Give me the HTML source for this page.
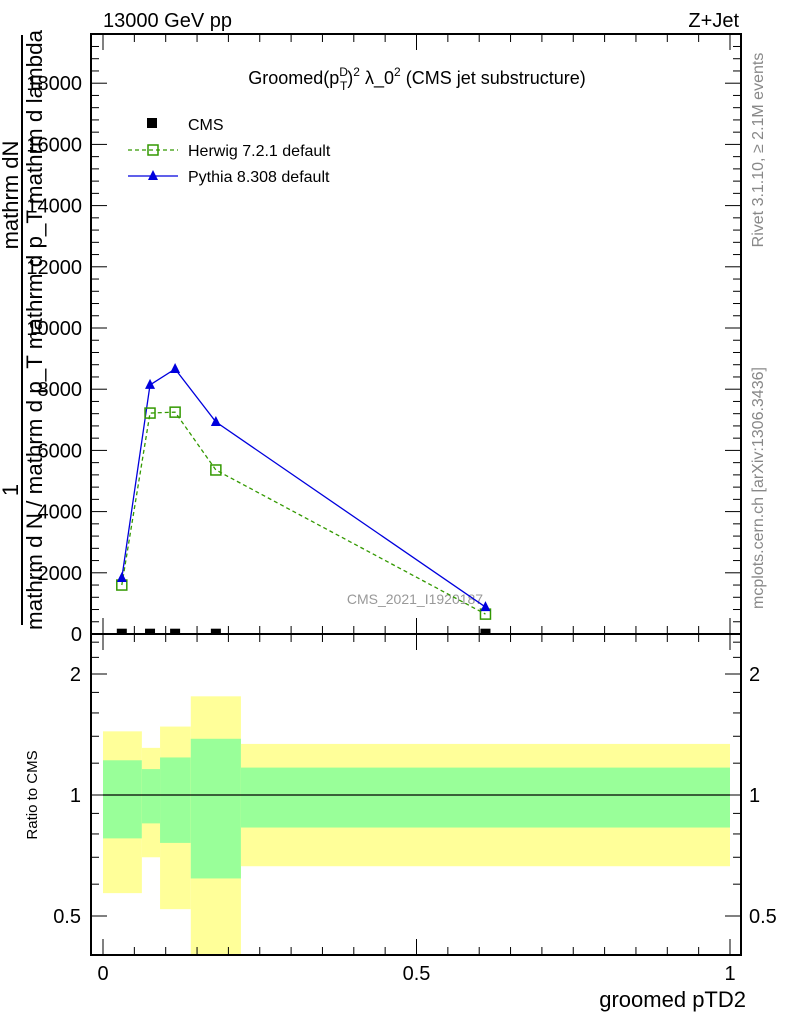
<!DOCTYPE html>
<html><head><meta charset="utf-8"><style>
body{margin:0;background:#fff;width:786px;height:1024px;overflow:hidden}
svg{font-family:"Liberation Sans",sans-serif}
</style></head><body>
<svg id="c" width="786" height="1024" xmlns="http://www.w3.org/2000/svg">
<text x="103" y="27" font-size="20">13000 GeV pp</text>
<text x="739" y="27" font-size="20" text-anchor="end">Z+Jet</text>
<text x="417" y="84" font-size="18" text-anchor="middle">Groomed(p<tspan font-size="12" dy="-8">D</tspan><tspan font-size="12" dx="-8" dy="14">T</tspan><tspan font-size="18" dy="-6">)</tspan><tspan font-size="12" dy="-8">2</tspan><tspan dy="8"> λ_0</tspan><tspan font-size="12" dy="-8">2</tspan><tspan dy="8"> (CMS jet substructure)</tspan></text>
<g transform="translate(763,150) rotate(-90)"><text font-size="16" fill="#888" text-anchor="middle">Rivet 3.1.10, ≥ 2.1M events</text></g>
<g transform="translate(763,488) rotate(-90)"><text font-size="16" fill="#888" text-anchor="middle">mcplots.cern.ch [arXiv:1306.3436]</text></g>
<g transform="translate(20,330) rotate(-90)">
<text x="-160" y="-2" font-size="22" text-anchor="middle">1</text>
<line x1="-295" y1="2" x2="295" y2="2" stroke="#000" stroke-width="2"/>
<text x="135" y="-2" font-size="22" text-anchor="middle">mathrm dN</text>
<text x="0" y="22" font-size="22" text-anchor="middle" textLength="600" lengthAdjust="spacingAndGlyphs">mathrm d N / mathrm d p_T mathrm d p_T mathrm d lambda</text>
</g>
<g transform="translate(37,795) rotate(-90)"><text font-size="15" text-anchor="middle">Ratio to CMS</text></g>
<text x="746" y="1007" font-size="22" text-anchor="end">groomed pTD2</text>
<text x="415" y="604" font-size="14" fill="#999" text-anchor="middle">CMS_2021_I1920187</text>
<g id="bands"></g>
<g id="axes"></g>
<g id="series"></g>
<g>
<rect x="147" y="118" width="10" height="10" fill="#000"/>
<text x="188" y="130" font-size="16">CMS</text>
<line x1="128" y1="150" x2="178" y2="150" stroke="#339900" stroke-dasharray="4,3" stroke-width="1.3"/>
<rect x="148" y="145" width="10" height="10" fill="none" stroke="#339900" stroke-width="1.5"/>
<text x="188" y="156" font-size="16">Herwig 7.2.1 default</text>
<line x1="128" y1="176" x2="178" y2="176" stroke="#0000dd" stroke-width="1.3"/>
<polygon points="153,170 158,180 148,180" fill="#0000dd"/>
<text x="188" y="182" font-size="16">Pythia 8.308 default</text>
</g>
</svg>
<script>
const xVals=[0.03,0.075,0.115,0.18,0.61];
const cmsVals=[10,10,10,10,10];
const herwigVals=[1600,7220,7250,5360,650];
const pythiaVals=[1830,8140,8660,6930,880];
const binEdges=[0,0.062,0.091,0.14,0.22,1];
const yellowUp=[1.44,1.31,1.48,1.76,1.34];
const yellowDn=[0.57,0.70,0.52,0.30,0.665];
const greenUp=[1.22,1.16,1.24,1.38,1.17];
const greenDn=[0.78,0.85,0.76,0.62,0.83];
const mainTicks=[0,2000,4000,6000,8000,10000,12000,14000,16000,18000];
const mainTickLabels=["0","2000","4000","6000","8000","10000","12000","14000","16000","18000"];
const ratioTicks=[0.5,1,2];
const ratioTickLabels=["0.5","1","2"];
const xTicks=[0,0.5,1];
const xTickLabels=["0","0.5","1"];

const NS="http://www.w3.org/2000/svg";
const L=91,R=741,T=34,MB=634,RB=955;
const X=v=>103+v*627;
const Y=v=>634-v*0.0306;
const RY=v=>795-Math.log2(v)*121;
function mk(tag,attrs,parent){const e=document.createElementNS(NS,tag);for(const k in attrs)e.setAttribute(k,attrs[k]);parent.appendChild(e);return e;}
const bands=document.getElementById('bands'),axes=document.getElementById('axes'),series=document.getElementById('series');
const clip=v=>Math.min(RB,Math.max(T,v));
for(let i=0;i<5;i++){
 const x0=X(binEdges[i]),x1=X(binEdges[i+1]);
 const y1=clip(RY(yellowUp[i])),y2=Math.min(RB,RY(yellowDn[i]));
 const r=mk('rect',{x:x0,y:y1,width:x1-x0,height:y2-y1,fill:'#ffff99'},bands);
 
 
 const g1=RY(greenUp[i]),g2=RY(greenDn[i]);
 const g=mk('rect',{x:x0,y:g1,width:x1-x0,height:g2-g1,fill:'#99ff99'},bands);
 
 
}
mk('line',{x1:X(0),x2:X(1),y1:RY(1),y2:RY(1),stroke:'#000','stroke-width':1.2},bands);
mk('rect',{x:L,y:T,width:R-L,height:MB-T,fill:'none',stroke:'#000','stroke-width':2},axes);
mk('rect',{x:L,y:MB,width:R-L,height:RB-MB,fill:'none',stroke:'#000','stroke-width':2},axes);
for(let i=0;i<mainTicks.length;i++){
 const y=Y(mainTicks[i]);
 mk('line',{x1:L,x2:L+16,y1:y,y2:y,stroke:'#000'},axes);
 mk('line',{x1:R,x2:R-16,y1:y,y2:y,stroke:'#000'},axes);
 const t=mk('text',{x:L-9,y:y+7,'font-size':20,'text-anchor':'end'},axes);
 t.textContent=mainTickLabels[i];
 
 
 for(let k=1;k<5;k++){const ym=Y(mainTicks[i]+k*400);if(ym>T){mk('line',{x1:L,x2:L+8,y1:ym,y2:ym,stroke:'#000'},axes);mk('line',{x1:R,x2:R-8,y1:ym,y2:ym,stroke:'#000'},axes);}}
}
for(let i=0;i<ratioTicks.length;i++){
 const y=RY(ratioTicks[i]);
 mk('line',{x1:L,x2:L+16,y1:y,y2:y,stroke:'#000'},axes);
 mk('line',{x1:R,x2:R-16,y1:y,y2:y,stroke:'#000'},axes);
 const t=mk('text',{x:L-10,y:y+7,'font-size':20,'text-anchor':'end'},axes);
 t.textContent=ratioTickLabels[i];
 
 
 const t2=mk('text',{x:R+8,y:y+7,'font-size':20},axes);
 t2.textContent=ratioTickLabels[i];
 
 
}
[0.4,0.6,0.7,0.8,0.9,1.2,1.4,1.6,1.8,2.2,2.4].forEach(v=>{const y=RY(v);if(y>MB&&y<RB){mk('line',{x1:L,x2:L+8,y1:y,y2:y,stroke:'#000'},axes);mk('line',{x1:R,x2:R-8,y1:y,y2:y,stroke:'#000'},axes);}});
for(let k=0;k<=20;k++){
 const v=k*0.05,x=X(v),big=k%10==0,len=big?16:8;
 mk('line',{x1:x,x2:x,y1:MB,y2:MB-len,stroke:'#000'},axes);
 mk('line',{x1:x,x2:x,y1:T,y2:T+len,stroke:'#000'},axes);
 mk('line',{x1:x,x2:x,y1:RB,y2:RB-len,stroke:'#000'},axes);
 mk('line',{x1:x,x2:x,y1:MB,y2:MB+len,stroke:'#000'},axes);
}
for(let i=0;i<xTicks.length;i++){
 const t=mk('text',{x:X(xTicks[i]),y:980,'font-size':20,'text-anchor':'middle'},axes);
 t.textContent=xTickLabels[i];
 
 
}
const hp=xVals.map((x,i)=>X(x)+','+Y(herwigVals[i])).join(' ');
const hl=mk('polyline',{points:hp,fill:'none',stroke:'#339900','stroke-width':1.3,'stroke-dasharray':'4,3'},series);


const pp=xVals.map((x,i)=>X(x)+','+Y(pythiaVals[i])).join(' ');
const pl=mk('polyline',{points:pp,fill:'none',stroke:'#0000dd','stroke-width':1.3},series);


xVals.forEach((x,i)=>{
 const cx=X(x);
 const h=mk('rect',{x:cx-5,y:Y(herwigVals[i])-5,width:10,height:10,fill:'none',stroke:'#339900','stroke-width':1.5},series);
 
 
 const py=Y(pythiaVals[i]);
 const p=mk('polygon',{points:`${cx},${py-6} ${cx+5},${py+4} ${cx-5},${py+4}`,fill:'#0000dd'},series);
 
 
 const c=mk('rect',{x:cx-5,y:Y(cmsVals[i])-5,width:10,height:6,fill:'#000'},series);
 
 
});
</script>
</body></html>
